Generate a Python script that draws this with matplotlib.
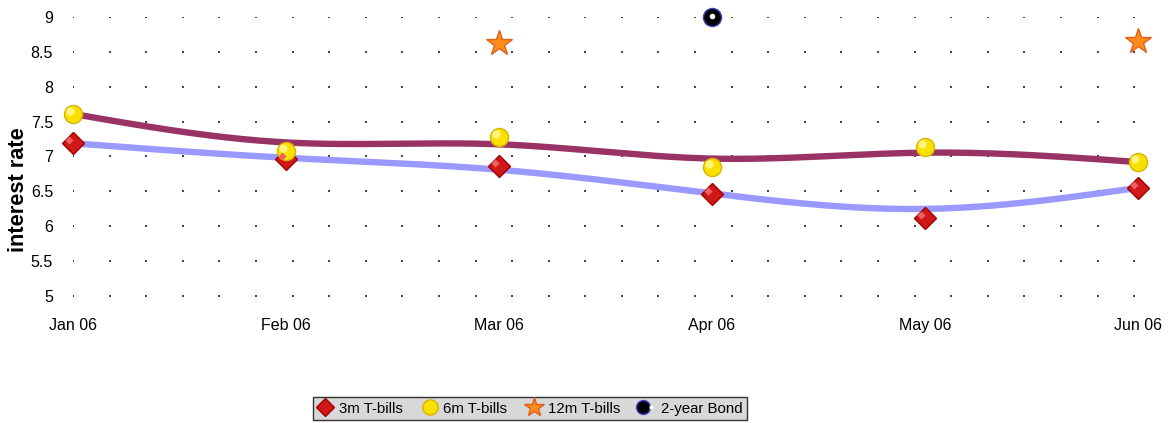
import matplotlib.pyplot as plt
import numpy as np
from matplotlib.lines import Line2D
from matplotlib.legend_handler import HandlerTuple

plt.rcParams['font.family'] = ['Liberation Sans', 'DejaVu Sans']

months = ['Jan 06', 'Feb 06', 'Mar 06', 'Apr 06', 'May 06', 'Jun 06']
t_bills_3m = [7.19, 6.96, 6.86, 6.46, 6.12, 6.55]
t_bills_6m = [7.61, 7.08, 7.28, 6.85, 7.14, 6.92]
t_bills_12m = [np.nan, np.nan, 8.63, np.nan, np.nan, 8.66]
bond_2y = [np.nan, np.nan, np.nan, 9.0, np.nan, np.nan]

x = np.arange(len(months))


def smooth(px, py, n=40):
    # uniform cubic B-spline, end points mirrored so the curve starts/ends on them
    px = np.asarray(px, float)
    py = np.asarray(py, float)
    px = np.concatenate([[2 * px[0] - px[1]], px, [2 * px[-1] - px[-2]]])
    py = np.concatenate([[2 * py[0] - py[1]], py, [2 * py[-1] - py[-2]]])
    t = np.linspace(0, 1, n)
    b0 = (1 - t) ** 3 / 6
    b1 = (3 * t ** 3 - 6 * t ** 2 + 4) / 6
    b2 = (-3 * t ** 3 + 3 * t ** 2 + 3 * t + 1) / 6
    b3 = t ** 3 / 6
    xs, ys = [], []
    for i in range(len(px) - 3):
        xs.append(b0 * px[i] + b1 * px[i + 1] + b2 * px[i + 2] + b3 * px[i + 3])
        ys.append(b0 * py[i] + b1 * py[i + 1] + b2 * py[i + 2] + b3 * py[i + 3])
    return np.concatenate(xs), np.concatenate(ys)


W, H = 1171, 423
fig = plt.figure(figsize=(W / 100, H / 100), dpi=100)
ax = fig.add_axes([73 / W, (H - 296) / H, 1065 / W, 279 / H])
ax.set_xlim(0, 5)
ax.set_ylim(5, 9)

# dotted background grid
gx = np.arange(30) * 0.1718
gy = np.arange(5, 9.01, 0.5)
GX, GY = np.meshgrid(gx, gy)
ax.scatter(GX.ravel(), GY.ravel(), s=1.2, marker='s', color='#444444', linewidths=0, zorder=1)

sx, sy = smooth(x, t_bills_6m)
ax.plot(sx, sy, color='#993366', lw=4.6, solid_capstyle='butt', zorder=2, clip_on=False)
sx, sy = smooth(x, t_bills_3m)
ax.plot(sx, sy, color='#9999ff', lw=4.6, solid_capstyle='butt', zorder=2, clip_on=False)

# markers
ax.plot(x, t_bills_3m, 'D', ms=11.5, mfc='#d01818', mec='#a00000', mew=1, zorder=4, clip_on=False)
ax.plot(x - 0.02, np.array(t_bills_3m) + 0.04, 'D', ms=4, mfc='#f06060', mec='none', zorder=5, clip_on=False)
ax.plot(x, t_bills_6m, 'o', ms=13, mfc='#f8e000', mec='#d8b400', mew=1, zorder=4, clip_on=False)
ax.plot(x - 0.015, np.array(t_bills_6m) + 0.04, 'o', ms=6, mfc='#fff47a', mec='none', zorder=5, clip_on=False)
ax.plot(x, t_bills_12m, '*', ms=19, mfc='#ff8c1a', mec='#e0601a', mew=1, zorder=4, clip_on=False)
ax.plot(x, bond_2y, 'o', ms=13, mfc='black', mec='#4040c0', mew=1, zorder=4, clip_on=False)
ax.plot(x, np.array(bond_2y) + 0.02, 'o', ms=4, mfc='white', mec='none', zorder=5, clip_on=False)

ax.set_xticks(x)
ax.set_xticklabels(months)
ax.set_yticks(gy)
ax.set_yticklabels(['5', '5.5', '6', '6.5', '7', '7.5', '8', '8.5', '9'])
ax.tick_params(axis='x', length=0, pad=16, labelsize=11.5)
ax.tick_params(axis='y', length=0, pad=14.4, labelsize=11.5)
for s in ax.spines.values():
    s.set_visible(False)

fig.text(19 / W, 1 - 190 / H, 'interest rate', rotation=90, ha='center', va='center',
         fontsize=15.7, fontweight='bold')

h3 = Line2D([], [], ls='none', marker='D', ms=9, mfc='#d01818', mec='#a00000')
h6 = Line2D([], [], ls='none', marker='o', ms=11, mfc='#f8e000', mec='#d8b400')
h12 = Line2D([], [], ls='none', marker='*', ms=15, mfc='#ff8c1a', mec='#e0601a')
hb1 = Line2D([], [], ls='none', marker='o', ms=10, mfc='black', mec='#4040c0')
hb2 = Line2D([], [], ls='none', marker='o', ms=3, mfc='white', mec='none')
leg = fig.legend([h3, h6, h12, (hb1, hb2)],
                 ['3m T-bills', '6m T-bills', '12m T-bills', '2-year Bond'],
                 handler_map={tuple: HandlerTuple(ndivide=None, pad=0)},
                 loc='center', bbox_to_anchor=(530 / W, 1 - 408.5 / H), ncol=4,
                 fontsize=10.8, frameon=True, fancybox=False, framealpha=1,
                 handlelength=1.0, handletextpad=0.4, columnspacing=1.3,
                 borderpad=0.3, borderaxespad=0)
leg.get_frame().set_facecolor('#d8d8d8')
leg.get_frame().set_edgecolor('#333333')
leg.get_frame().set_linewidth(1)

fig.savefig('out.png', dpi=100)
